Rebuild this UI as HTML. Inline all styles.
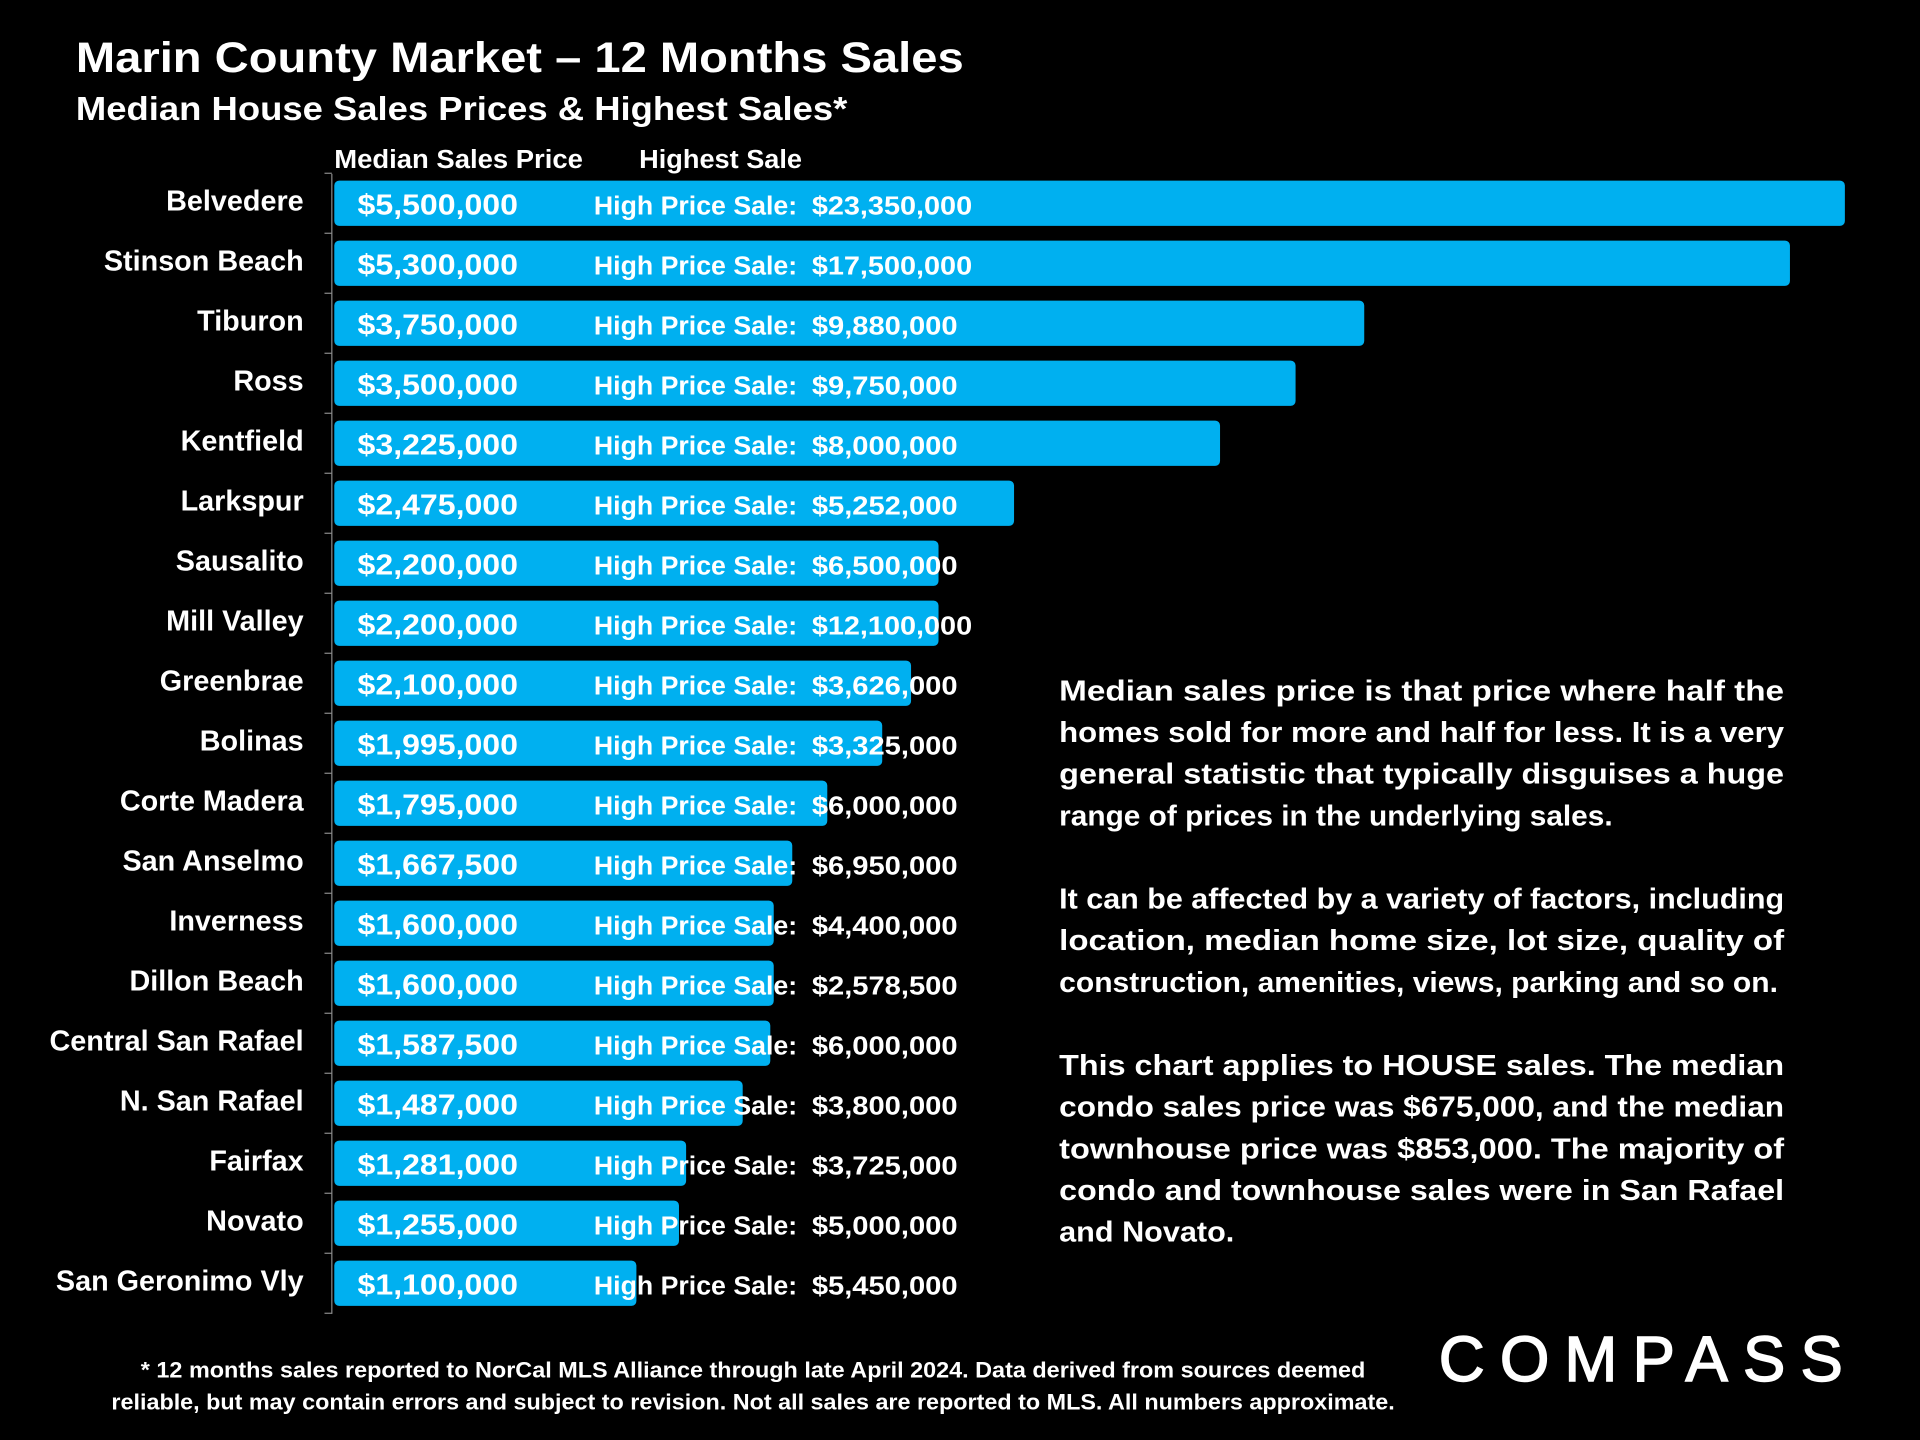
<!DOCTYPE html>
<html><head><meta charset="utf-8"><style>
html,body{margin:0;padding:0;background:#000;}
svg{display:block;}
text{font-family:"Liberation Sans",sans-serif;font-weight:bold;fill:#fff;}
</style></head><body>
<svg id="chart" width="1920" height="1440" viewBox="0 0 1568 1176" xmlns="http://www.w3.org/2000/svg">
<rect width="1568" height="1176" fill="#000"/>
<text x="62" y="59" font-size="35" textLength="725" lengthAdjust="spacingAndGlyphs">Marin County Market – 12 Months Sales</text>
<text x="62" y="98" font-size="27" textLength="630" lengthAdjust="spacingAndGlyphs">Median House Sales Prices &amp; Highest Sales*</text>
<text x="273" y="137" font-size="21" textLength="203" lengthAdjust="spacingAndGlyphs">Median Sales Price</text>
<text x="522" y="137" font-size="21" textLength="133" lengthAdjust="spacingAndGlyphs">Highest Sale</text>
<g id="plot"></g>
<g font-size="23.5" id="para"></g>
<text x="615" y="1125" font-size="18" text-anchor="middle" textLength="1000" lengthAdjust="spacingAndGlyphs">* 12 months sales reported to NorCal MLS Alliance through late April 2024. Data derived from sources deemed</text>
<text x="615" y="1151" font-size="18" text-anchor="middle" textLength="1048" lengthAdjust="spacingAndGlyphs">reliable, but may contain errors and subject to revision. Not all sales are reported to MLS. All numbers approximate.</text>
<text x="1175" y="1128" font-size="52" style="font-weight:normal" stroke="#fff" stroke-width="1.2" textLength="330" lengthAdjust="spacing">COMPASS</text>
</svg>
<script>
const cities=["Belvedere","Stinson Beach","Tiburon","Ross","Kentfield","Larkspur","Sausalito","Mill Valley","Greenbrae","Bolinas","Corte Madera","San Anselmo","Inverness","Dillon Beach","Central San Rafael","N. San Rafael","Fairfax","Novato","San Geronimo Vly"];
const medians=[5500000,5300000,3750000,3500000,3225000,2475000,2200000,2200000,2100000,1995000,1795000,1667500,1600000,1600000,1587500,1487000,1281000,1255000,1100000];
const highs=[23350000,17500000,9880000,9750000,8000000,5252000,6500000,12100000,3626000,3325000,6000000,6950000,4400000,2578500,6000000,3800000,3725000,5000000,5450000];
const NS="http://www.w3.org/2000/svg";
const x0=273, pxPerM=224.3, y0=166, step=49, bh=37;
const xs=v=>x0+v/1e6*pxPerM;
const ys=i=>y0+i*step;
const fmt=v=>"$"+v.toLocaleString("en-US");
const g=document.getElementById("plot");
function mk(tag,attrs,txt){const e=document.createElementNS(NS,tag);for(const k in attrs)e.setAttribute(k,attrs[k]);if(txt!=null)e.textContent=txt;g.appendChild(e);return e;}
const ax=mk("line",{x1:271,x2:271,y1:ys(0)-24,y2:ys(cities.length-1)+25,stroke:"#888","stroke-width":1});


for(let i=0;i<=cities.length;i++){
  const t=mk("line",{x1:265,x2:271,y1:ys(i)-24.5,y2:ys(i)-24.5,stroke:"#888","stroke-width":1});
  
  
}
cities.forEach((c,i)=>{
  const y=ys(i);
  const b=mk("rect",{x:x0,y:y-bh/2,width:xs(medians[i])-x0,height:bh,rx:4,fill:"#00B0F0"});
  
  
  const l=mk("text",{x:248,y:y+6,"font-size":23.5,"text-anchor":"end"},c);
  
  
  const m=mk("text",{x:292,y:y+9,"font-size":23.5,textLength:131,lengthAdjust:"spacingAndGlyphs"},fmt(medians[i]));
  
  
  const h=mk("text",{x:485,y:y+9,"font-size":21,textLength:166,lengthAdjust:"spacingAndGlyphs"},"High Price Sale:");
  
  
  const s=fmt(highs[i]);
  const hv=mk("text",{x:663,y:y+9,"font-size":21,textLength:s.length*11.9,lengthAdjust:"spacingAndGlyphs"},s);
  
  
});
const lines=[
["Median sales price is that price where half the",572,592],
["homes sold for more and half for less. It is a very",606,592],
["general statistic that typically disguises a huge",640,592],
["range of prices in the underlying sales.",674,452],
["It can be affected by a variety of factors, including",742,592],
["location, median home size, lot size, quality of",776,592],
["construction, amenities, views, parking and so on.",810,587],
["This chart applies to HOUSE sales. The median",878,592],
["condo sales price was $675,000, and the median",912,592],
["townhouse price was $853,000. The majority of",946,592],
["condo and townhouse sales were in San Rafael",980,592],
["and Novato.",1014,143]];
const p=document.getElementById("para");
lines.forEach(([t,y,w])=>{
  const e=document.createElementNS(NS,"text");
  e.setAttribute("x",865);e.setAttribute("y",y);
  e.setAttribute("textLength",w);e.setAttribute("lengthAdjust","spacingAndGlyphs");
  e.textContent=t;
  
  
  p.appendChild(e);
});
</script>
</body></html>
